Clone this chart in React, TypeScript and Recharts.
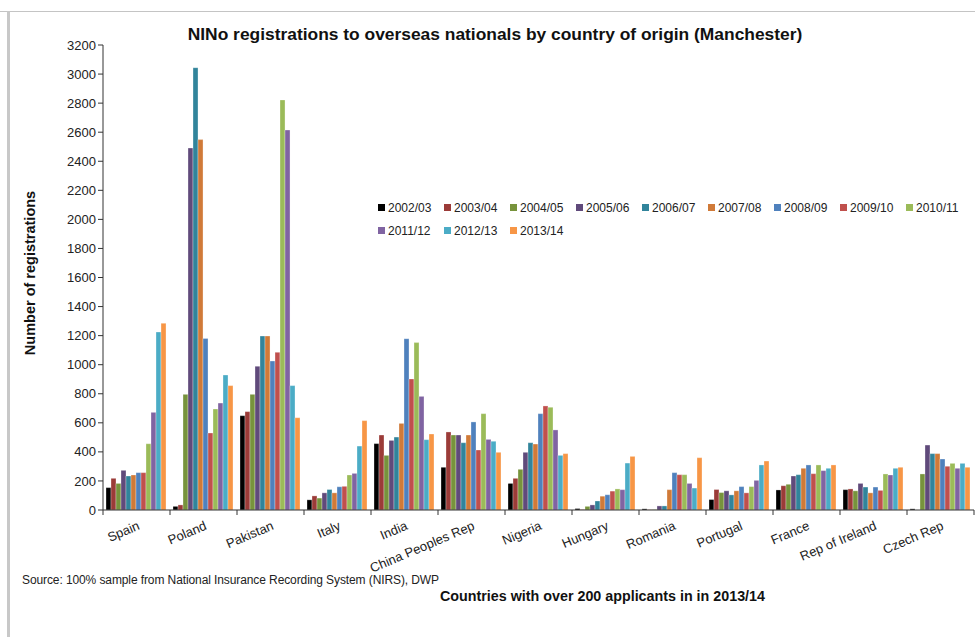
import React from 'react';
import { BarChart, Bar, XAxis, YAxis } from 'recharts';

// Countries with over 200 applicants in 2013/14
const countries = [
  'Spain', 'Poland', 'Pakistan', 'Italy', 'India', 'China Peoples Rep', 'Nigeria',
  'Hungary', 'Romania', 'Portugal', 'France', 'Rep of Ireland', 'Czech Rep',
];

const years = [
  '2002/03', '2003/04', '2004/05', '2005/06', '2006/07', '2007/08',
  '2008/09', '2009/10', '2010/11', '2011/12', '2012/13', '2013/14',
];

// one array per financial year, in the order of countries
const y2002 = [154, 25, 649, 70, 457, 294, 183, 10, 8, 72, 138, 140, 8];
const y2003 = [218, 35, 677, 97, 516, 537, 218, 3, 2, 141, 167, 145, 0];
const y2004 = [183, 796, 796, 82, 376, 516, 280, 25, 3, 120, 177, 132, 248];
const y2005 = [273, 2491, 989, 118, 479, 516, 397, 35, 28, 132, 234, 183, 447];
const y2006 = [234, 3044, 1197, 141, 502, 463, 463, 62, 28, 104, 243, 158, 388];
const y2007 = [241, 2549, 1197, 118, 596, 516, 454, 95, 140, 132, 287, 118, 388];
const y2008 = [257, 1181, 1025, 160, 1179, 606, 663, 105, 257, 161, 310, 158, 351];
const y2009 = [257, 530, 1085, 163, 902, 413, 716, 130, 243, 118, 250, 135, 301];
const y2010 = [456, 695, 2822, 241, 1152, 663, 707, 145, 243, 161, 310, 248, 321];
const y2011 = [672, 736, 2615, 252, 782, 486, 551, 140, 183, 204, 271, 241, 287];
const y2012 = [1225, 929, 856, 440, 484, 473, 376, 323, 151, 310, 287, 287, 321];
const y2013 = [1285, 856, 635, 615, 523, 397, 388, 369, 360, 337, 310, 294, 294];

const seriesValues = [y2002, y2003, y2004, y2005, y2006, y2007, y2008, y2009, y2010, y2011, y2012, y2013];

const colors = [
  '#000000', '#9B3B38', '#77933C', '#604A7B', '#31849B', '#D07A38',
  '#4F81BD', '#C0504D', '#9BBB59', '#8064A2', '#4BACC6', '#F79646',
];

const yTicks = [0, 200, 400, 600, 800, 1000, 1200, 1400, 1600, 1800, 2000, 2200, 2400, 2600, 2800, 3000, 3200];

const data = countries.map((name, i) => {
  const row: Record<string, string | number> = { name };
  years.forEach((yr, s) => {
    row[yr] = seriesValues[s][i];
  });
  return row;
});

const W = 975;
const H = 637;
const xAxisHeight = 30;
// plot area: x 103..974, y 45..510
const margin = { top: 45, right: 1, bottom: H - 510 - xAxisHeight, left: 43 };
const yAxisWidth = 60;
const band = (W - margin.left - yAxisWidth - margin.right) / countries.length;

const font = '"Liberation Sans", Arial, sans-serif';
const axisColor = '#333';

const CountryTick = (props: any) => {
  const { x, y, payload, index } = props;
  const last = index === countries.length - 1;
  return (
    <g>
      <line x1={x - band / 2} x2={x - band / 2} y1={y - 7} y2={y - 2} stroke={axisColor} />
      {last && <line x1={x + band / 2} x2={x + band / 2} y1={y - 7} y2={y - 2} stroke={axisColor} />}
      <text
        transform={`translate(${x + 4},${y + 12}) rotate(-23)`}
        textAnchor="end"
        fontSize={13}
        fill="#222"
        fontFamily={font}
      >
        {payload.value}
      </text>
    </g>
  );
};

const YearLegend = () => (
  <div style={{ display: 'flex', flexWrap: 'wrap', width: 600, fontFamily: font, fontSize: 12, color: '#222' }}>
    {years.map((yr, i) => (
      <div key={yr} style={{ width: 66, height: 23, display: 'flex', alignItems: 'center' }}>
        <span style={{ display: 'inline-block', width: 7, height: 7, background: colors[i], marginRight: 3 }} />
        <span>{yr}</span>
      </div>
    ))}
  </div>
);

export default function App() {
  return (
    <div style={{ position: 'absolute', left: 0, top: 0, width: W, height: H, background: '#fff', overflow: 'hidden', fontFamily: font }}>
      <div style={{ position: 'absolute', left: 0, top: 11, width: W, borderTop: '1px solid #c4c4c4' }} />
      <div style={{ position: 'absolute', left: 7, top: 11, width: 3, height: H - 11, background: '#c8c8c8' }} />

      <div style={{ position: 'absolute', left: 0, top: 24, width: 990, textAlign: 'center', fontSize: 17.4, fontWeight: 'bold', color: '#111' }}>
        NINo registrations to overseas nationals by country of origin (Manchester)
      </div>

      <div
        style={{
          position: 'absolute', left: 30, top: 273, transform: 'translate(-50%, -50%) rotate(-90deg)',
          whiteSpace: 'nowrap', fontSize: 14.5, fontWeight: 'bold', color: '#111',
        }}
      >
        Number of registrations
      </div>

      <BarChart width={W} height={H} data={data} margin={margin} barGap={0} barCategoryGap="4.5%"
        style={{ position: 'absolute', left: 0, top: 0 }}>
        <XAxis dataKey="name" height={xAxisHeight} interval={0} tick={<CountryTick />} tickLine={false} tickSize={5}
          axisLine={{ stroke: axisColor }} />
        <YAxis width={yAxisWidth} domain={[0, 3200]} ticks={yTicks} interval={0} tickSize={5}
          axisLine={{ stroke: axisColor }} tickLine={{ stroke: axisColor }}
          tick={{ fontSize: 13, fill: '#222', fontFamily: font }} />
        {years.map((yr, i) => (
          <Bar key={yr} dataKey={yr} fill={colors[i]} stroke="#ffffff" strokeOpacity={0.6} strokeWidth={0.5}
            isAnimationActive={false} />
        ))}
      </BarChart>

      <div style={{ position: 'absolute', left: 378, top: 196 }}>
        <YearLegend />
      </div>

      <div style={{ position: 'absolute', left: 22, top: 573, fontSize: 12, letterSpacing: -0.1, color: '#222' }}>
        Source: 100% sample from National Insurance Recording System (NIRS), DWP
      </div>
      <div style={{ position: 'absolute', left: 440, top: 588, fontSize: 14.3, fontWeight: 'bold', color: '#111' }}>
        Countries with over 200 applicants in in 2013/14
      </div>
    </div>
  );
}
